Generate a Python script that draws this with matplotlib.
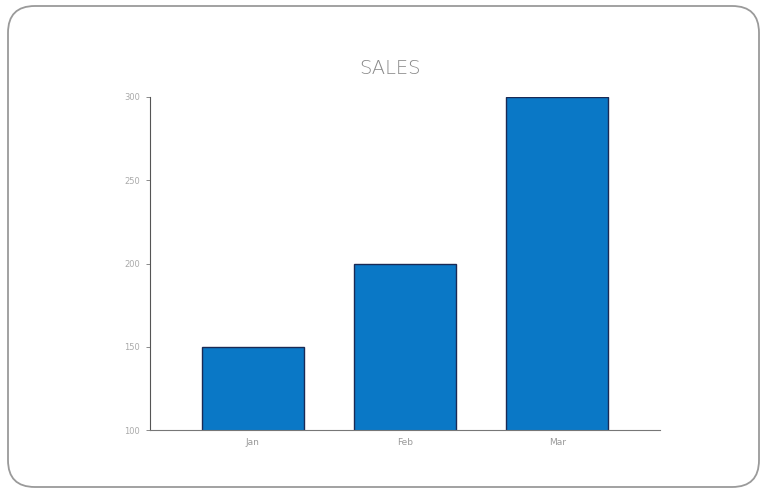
import matplotlib
matplotlib.use('Agg')
import matplotlib.pyplot as plt
from matplotlib.patches import FancyBboxPatch

months = ["Jan", "Feb", "Mar"]
sales = [150, 200, 300]
y_ticks = [100, 150, 200, 250, 300]

W, H = 766, 495
fig = plt.figure(figsize=(W / 100, H / 100), dpi=100)

# rounded outer frame (pixel coords -> figure fraction), kept behind the axes
frame = FancyBboxPatch((8 / W, 8 / H), 751 / W, 481 / H,
                       boxstyle="round,pad=0,rounding_size=0.035",
                       transform=fig.transFigure, facecolor="white",
                       edgecolor="#9a9a9a", linewidth=1.3,
                       mutation_aspect=W / H, zorder=-10)
fig.patches.append(frame)

ax = fig.add_axes([150 / W, 1 - 430 / H, 510 / W, 333 / H])
ax.set_facecolor("none")
ax.set_zorder(5)

x = range(len(months))
ax.bar(x, sales, width=0.67, bottom=0, color="#0a78c6",
       edgecolor="#1a2a55", linewidth=1.0)

ax.set_ylim(100, 300)
ax.set_xlim(-0.675, 2.675)
ax.set_yticks(y_ticks)
ax.set_xticks(list(x))
ax.set_xticklabels(months)

for s in ["top", "right"]:
    ax.spines[s].set_visible(False)
ax.spines["left"].set_color("#555555")
ax.spines["bottom"].set_color("#777777")
ax.spines["left"].set_linewidth(0.8)
ax.spines["bottom"].set_linewidth(0.8)

ax.tick_params(axis="y", length=3, width=0.6, color="#777777",
               labelsize=6, labelcolor="#aaaaaa", pad=4)
ax.tick_params(axis="x", length=0, labelsize=6.5, labelcolor="#999999", pad=6)

fig.text(390 / W, 1 - 68 / H, "SALES", ha="center", va="center",
         fontsize=14, color="#888888", fontweight="light")

fig.savefig("out.png", dpi=100)
